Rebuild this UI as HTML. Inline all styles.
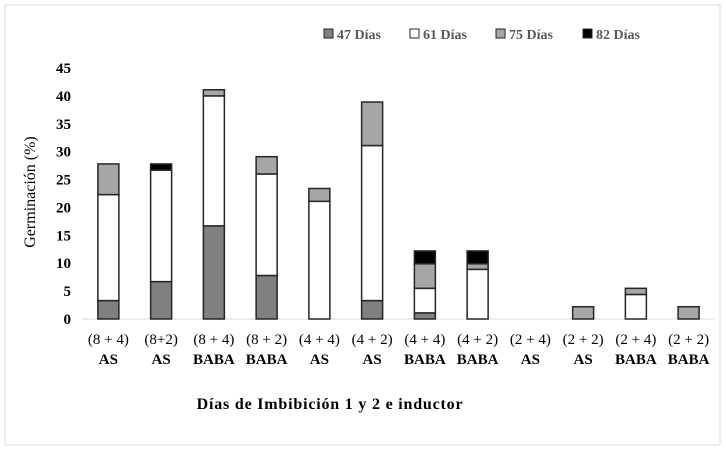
<!DOCTYPE html>
<html><head><meta charset="utf-8"><style>
body{margin:0;background:#fff;}
svg{display:block;font-family:"Liberation Serif",serif;}
</style></head><body>
<svg id="c" width="726" height="451">
<rect x="5" y="5" width="715" height="440" fill="#fff" stroke="#d9d9d9"/>
</svg>
<script>
const categories=[["(8 + 4)","AS"],["(8+2)","AS"],["(8 + 4)","BABA"],["(8 + 2)","BABA"],["(4 + 4)","AS"],["(4 + 2)","AS"],["(4 + 4)","BABA"],["(4 + 2)","BABA"],["(2 + 4)","AS"],["(2 + 2)","AS"],["(2 + 4)","BABA"],["(2 + 2)","BABA"]];
const d47=[3.3,6.7,16.7,7.8,0,3.3,1.1,0,0,0,0,0];
const d61=[19,20,23.3,18.2,21.1,27.8,4.4,8.9,0,0,4.4,0];
const d75=[5.5,0,1.1,3.1,2.3,7.8,4.4,1.0,0,2.2,1.1,2.2];
const d82=[0,1.1,0,0,0,0,2.3,2.3,0,0,0,0];
const yTicks=[0,5,10,15,20,25,30,35,40,45];
const seriesNames=["47 Días","61 Días","75 Días","82 Días"];
const NS="http://www.w3.org/2000/svg";
const svg=document.getElementById('c');
const x0=82,x1=715,y0=319,yTop=68;
const y=v=>y0-(v/45)*(y0-yTop);
const bw=(x1-x0)/categories.length;
const xc=i=>x0+bw*(i+0.5);
function mk(t,a){const e=document.createElementNS(NS,t);for(const k in a)e.setAttribute(k,a[k]);svg.appendChild(e);return e;}
yTicks.forEach(t=>{const e=mk('text',{x:71,y:y(t)+5,'text-anchor':'end','font-size':15,'font-weight':'bold',fill:'#000'});e.textContent=t;

});
const ax=mk('line',{x1:x0,x2:x1,y1:y0,y2:y0,stroke:'#d9d9d9'});


const series=[d47,d61,d75,d82];const fills=['#808080','#ffffff','#a6a6a6','#000000'];
categories.forEach((c,i)=>{let acc=0;
series.forEach((s,k)=>{const v=s[i];if(v>0){const r=mk('rect',{x:xc(i)-10.5,y:y(acc+v),width:21,height:y(acc)-y(acc+v),fill:fills[k],stroke:'#262626','stroke-width':1.5});

}acc+=v;});
const t1=mk('text',{x:xc(i),y:344,'text-anchor':'middle','font-size':15,fill:'#000'});t1.textContent=c[0];


const t2=mk('text',{x:xc(i),y:364,'text-anchor':'middle','font-size':15,'font-weight':'bold',fill:'#000'});t2.textContent=c[1];


});
const lx=[324,410,496,583];
seriesNames.forEach((n,k)=>{const r=mk('rect',{x:lx[k],y:29,width:9,height:9,fill:fills[k],stroke:'#262626'});


const t=mk('text',{x:lx[k]+13,y:39,'font-size':14,'font-weight':'bold',fill:'#595959'});t.textContent=n;

});
const yt=mk('text',{x:0,y:0,transform:'translate(35,192) rotate(-90)','text-anchor':'middle','font-size':16,fill:'#000'});yt.textContent='Germinación (%)';


const xt=mk('text',{x:330,y:409,'text-anchor':'middle','font-size':16,'font-weight':'bold','letter-spacing':'0.8',fill:'#000'});xt.textContent='Días de Imbibición 1 y 2  e inductor';
xt.setAttribute('xml:space','preserve');


</script>
</body></html>
